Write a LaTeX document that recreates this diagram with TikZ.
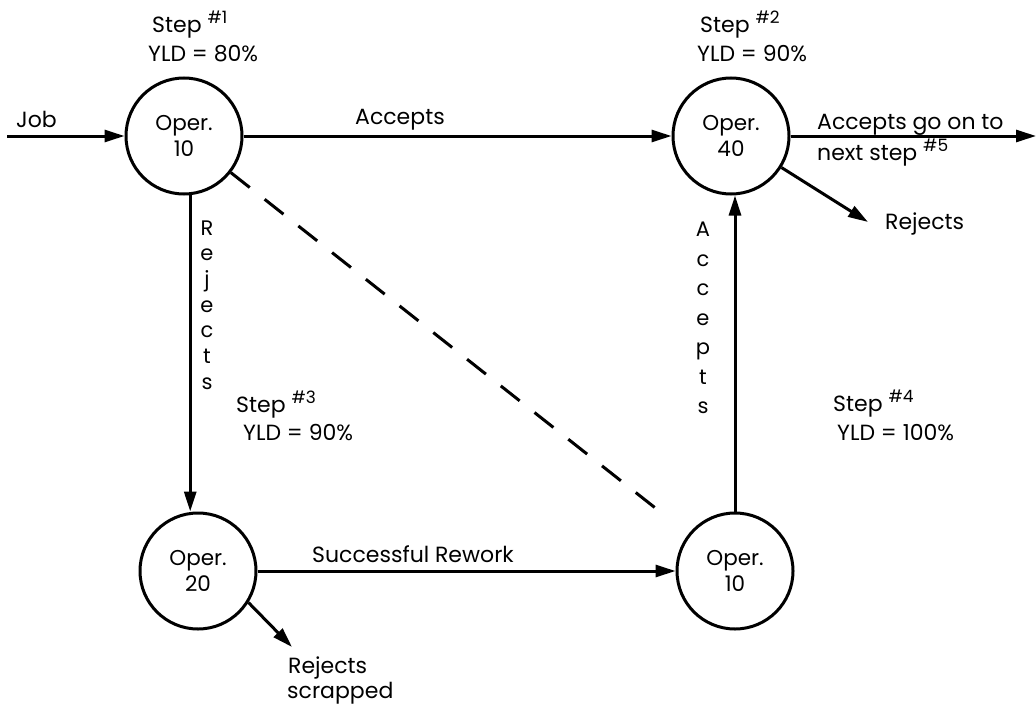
\documentclass[tikz,border=0pt]{standalone}
\usepackage{fontspec}
\setmainfont{Poppins}
\usetikzlibrary{arrows.meta}
\newcommand{\stepno}[1]{\raisebox{9pt}{\fontsize{17}{17}\selectfont\##1}}
\begin{document}
\begin{tikzpicture}[x=1pt,y=-1pt,
  oper/.style={circle,draw,line width=3pt,minimum size=116pt,inner sep=0pt,
    align=center,font=\fontsize{21.5}{26}\selectfont},
  flow/.style={line width=3pt,-{Triangle[length=20pt,width=12pt]}},
  link/.style={line width=3pt,dash pattern=on 24pt off 19pt},
  lbl/.style={font=\fontsize{22}{24}\selectfont,inner sep=0pt,anchor=base west},
  vlbl/.style={font=\fontsize{21}{25.7}\selectfont,inner sep=0pt,align=center}]
\fill[white] (0,0) rectangle (1036,709);
\useasboundingbox (0,0) rectangle (1036,709);

% operations
\node[oper] (op10a) at (184,136) {Oper.\\10};
\node[oper] (op40)  at (731,136) {Oper.\\40};
\node[oper] (op20)  at (198,571) {Oper.\\20};
\node[oper] (op10b) at (735,571) {Oper.\\10};

% free ends
\coordinate (jobin) at (7,136);
\coordinate (nextout) at (1036,136);
\coordinate (rej40) at (868,222);
\coordinate (rej20) at (292,647);
\coordinate (dashend) at (668,518);

% connectors
\draw[flow] (jobin) -- (op10a.west);
\draw[flow] (op10a.east) -- (op40.west);
\draw[flow] (op40.east) -- (nextout);
\draw[flow] (op40.-32) -- (rej40);
\draw[flow] (op10a.-84) -- (op10a.-84 |- op20.north);
\draw[flow] (op20.east) -- (op10b.west);
\draw[flow] (op20.-32) -- (rej20);
\draw[flow] (op10b.north) -- (op10b.north |- op40.south);
\draw[link] (op10a.-38) -- (dashend);

% step captions
\node[lbl] (s1a) at (152,33) {Step \stepno{1}};
\node[lbl] (s1b) at (148,62) {YLD = 80\%};
\node[lbl] (s2a) at (700,33) {Step \stepno{2}};
\node[lbl] (s2b) at (697,62) {YLD = 90\%};
\node[lbl] (s3a) at (236,412) {Step \stepno{3}};
\node[lbl] (s3b) at (243,440) {YLD = 90\%};
\node[lbl] (s4a) at (833,411) {Step \stepno{4}};
\node[lbl] (s4b) at (837,440) {YLD = 100\%};

% flow labels
\node[lbl] (job) at (16,127) {Job};
\node[lbl] (acc1) at (355,124) {Accepts};
\node[lbl] (nexta) at (817,129) {Accepts go on to};
\node[lbl] (nextb) at (817,160) {next step \stepno{5}};
\node[lbl] (rejl40) at (885,229) {Rejects};
\node[lbl] (rework) at (312,562) {Successful Rework};
\node[lbl] (scrapa) at (288,673) {Rejects};
\node[lbl] (scrapb) at (287,698) {scrapped};
\node[vlbl] (vrej) at (207,305) {R\\e\\j\\e\\c\\t\\s};
\node[vlbl,font=\fontsize{21}{29.5}\selectfont] (vacc) at (703,318) {A\\c\\c\\e\\p\\t\\s};
\end{tikzpicture}
\end{document}
